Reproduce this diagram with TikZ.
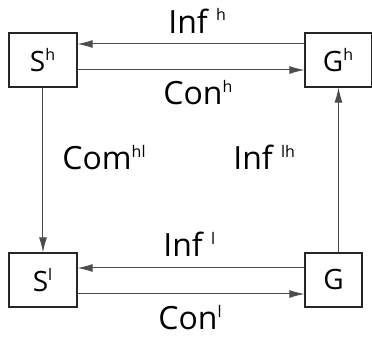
\documentclass[tikz,border=0pt]{standalone}
\usepackage{fontspec}
\setmainfont{Open Sans}
\usetikzlibrary{arrows.meta}
\usetikzlibrary{positioning}

% small raised level index
\newcommand{\lev}[1]{\textsuperscript{\fontsize{8}{8}\selectfont #1}}

\tikzset{
  level/.style={draw=black!85, line width=0.6pt, minimum height=27pt, inner sep=0pt,
    font=\fontsize{14}{16}\selectfont},
  flow/.style={draw=black!70, line width=0.5pt, -{Latex[length=7.5pt,width=4pt]}},
  lbl/.style={anchor=base west, inner sep=0pt, font=\fontsize{16}{18}\selectfont},
}

\begin{document}
\begin{tikzpicture}[x=0.5pt,y=-0.5pt]
            \useasboundingbox (0,0) rectangle (372,337);

            % the four levels
            \node[level, minimum width=34pt] (Sh) at (43,60) {S\lev{h}};
            \node[level, minimum width=33.5pt] (Gh) at (338.5,60) {G\lev{h}};
            \node[level, minimum width=34pt] (Sl) at (43,280) {S\lev{l}};
            \node[level, minimum width=28.5pt] (Gl) at (333.5,280) {G};

            % horizontal flows
            \draw[flow] ([yshift=8pt]Gh.west) -- ([yshift=8pt]Sh.east);
            \draw[flow] ([yshift=-5pt]Sh.east) -- ([yshift=-5pt]Gh.west);
            \draw[flow] ([yshift=6pt]Gl.west) -- ([yshift=6pt]Sl.east);
            \draw[flow] ([yshift=-7pt]Sl.east) -- ([yshift=-7pt]Gl.west);

            % vertical flows
            \draw[flow] (Sh.south) -- (Sl.north);
            \draw[flow] (Gl.north -| Gh.south) -- (Gh.south);

            % flow labels
            \node[lbl] (infh) at (168,33) {Inf \lev{h}};
            \node[lbl] (conh) at (163,105) {Con\lev{h}};
            \node[lbl] (comhl) at (62,170) {Com\lev{hl}};
            \node[lbl] (inflh) at (233,170) {Inf \lev{lh}};
            \node[lbl] (infl) at (163,257) {Inf \lev{l}};
            \node[lbl] (conl) at (158,330) {Con\lev{l}};
        \end{tikzpicture}
\end{document}
